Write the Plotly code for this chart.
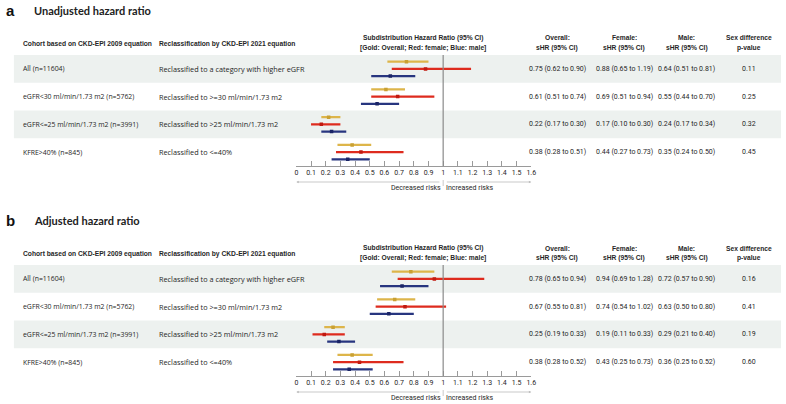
import plotly.graph_objects as go

W, H = 786, 404

# ---------------- data ----------------
cohorts = ["All (n=11604)", "eGFR<30 ml/min/1.73 m2 (n=5762)",
           "eGFR<=25 ml/min/1.73 m2 (n=3991)", "KFRE>40% (n=845)"]
reclass = ["Reclassified to a category with higher eGFR", "Reclassified to >=30 ml/min/1.73 m2",
           "Reclassified to >25 ml/min/1.73 m2", "Reclassified to <=40%"]

# panel a (unadjusted)
a_overall = [0.75, 0.61, 0.22, 0.38]
a_overall_lo = [0.62, 0.51, 0.17, 0.28]
a_overall_hi = [0.90, 0.74, 0.30, 0.51]
a_female = [0.88, 0.69, 0.17, 0.44]
a_female_lo = [0.65, 0.51, 0.10, 0.27]
a_female_hi = [1.19, 0.94, 0.30, 0.73]
a_male = [0.64, 0.55, 0.24, 0.35]
a_male_lo = [0.51, 0.44, 0.17, 0.24]
a_male_hi = [0.81, 0.70, 0.34, 0.50]
a_p = ["0.11", "0.25", "0.32", "0.45"]

# panel b (adjusted)
b_overall = [0.78, 0.67, 0.25, 0.38]
b_overall_lo = [0.65, 0.55, 0.19, 0.28]
b_overall_hi = [0.94, 0.81, 0.33, 0.52]
b_female = [0.94, 0.74, 0.19, 0.43]
b_female_lo = [0.69, 0.54, 0.11, 0.25]
b_female_hi = [1.28, 1.02, 0.33, 0.73]
b_male = [0.72, 0.63, 0.29, 0.36]
b_male_lo = [0.57, 0.50, 0.21, 0.25]
b_male_hi = [0.90, 0.80, 0.40, 0.52]
b_p = ["0.16", "0.41", "0.19", "0.60"]

tick_vals = [0, 0.1, 0.2, 0.3, 0.4, 0.5, 0.6, 0.7, 0.8, 0.9, 1, 1.1, 1.2, 1.3, 1.4, 1.5, 1.6]
tick_text = ["0", "0.1", "0.2", "0.3", "0.4", "0.5", "0.6", "0.7", "0.8", "0.9", "1",
             "1.1", "1.2", "1.3", "1.4", "1.5", "1.6"]

GOLD = "#DDB54A"
GOLD_D = "#C9A032"
RED = "#DE2B1E"
RED_D = "#C01A10"
BLUE = "#27357F"
BLUE_D = "#1A2466"
SHADE = "#EDF1EF"
TXT = "#262626"
FONT = "Roboto"
FONTW = "Open Sans"
FONTB = "Liberation Sans"
FS = 7
FSB = 6.7


def px(x):
    return x / W


def py(y):
    return 1 - y / H


fig = go.Figure()
annotations = []
shapes = []

panels = [
    dict(letter="a", title="Unadjusted hazard ratio", off=0, xa="x", ya="y",
         ov=(a_overall, a_overall_lo, a_overall_hi), fe=(a_female, a_female_lo, a_female_hi),
         ma=(a_male, a_male_lo, a_male_hi), p=a_p),
    dict(letter="b", title="Adjusted hazard ratio", off=210, xa="x2", ya="y2",
         ov=(b_overall, b_overall_lo, b_overall_hi), fe=(b_female, b_female_lo, b_female_hi),
         ma=(b_male, b_male_lo, b_male_hi), p=b_p),
]


def txt(x, y, s, anchor="left", size=FS, family=FONT, color=TXT, xref="paper"):
    annotations.append(dict(x=x, y=y, xref=xref, yref="paper", text=s, showarrow=False,
                            xanchor=anchor, yanchor="middle", borderpad=0,
                            font=dict(size=size, family=family, color=color)))


X0, X1 = 297, 534
for pi, P in enumerate(panels):
    o = P["off"]
    top, bot = 55 + o, 166 + o
    rowh = (bot - top) / 4
    # title
    txt(px(3), py(10 + o), "<b>" + P["letter"] + "</b>", size=15, family=FONTB, color="#111111")
    txt(px(31), py(10 + o), "<b>" + P["title"] + "</b>", size=11, family="Lato", color="#222222")
    # headers
    hy = 44 + o
    txt(px(20), py(hy), "<b>Cohort based on CKD-EPI 2009 equation</b>", size=FSB, family=FONTB)
    txt(px(157), py(hy), "<b>Reclassification by CKD-EPI 2021 equation</b>", size=FSB, family=FONTB)
    for cx, l1, l2 in [(425, "Subdistribution Hazard Ratio (95% CI)", "[Gold: Overall; Red: female; Blue: male]"),
                       (560, "Overall:", "sHR (95% CI)"), (628, "Female:", "sHR (95% CI)"),
                       (691, "Male:", "sHR (95% CI)"), (754, "Sex difference", "p-value")]:
        txt(px(cx), py(38 + o), "<b>" + l1 + "</b>", anchor="center", size=FSB, family=FONTB)
        txt(px(cx), py(48 + o), "<b>" + l2 + "</b>", anchor="center", size=FSB, family=FONTB)
    # rows
    for k in range(4):
        ry0 = top + k * rowh
        cy = ry0 + rowh / 2
        if k % 2 == 0:
            shapes.append(dict(type="rect", xref="paper", yref="paper", x0=px(12), x1=1,
                               y0=py(ry0 + rowh), y1=py(ry0), fillcolor=SHADE, line=dict(width=0),
                               layer="below"))
        txt(px(20), py(cy), cohorts[k], size=6.9, family=FONTW)
        txt(px(157), py(cy), reclass[k], size=7.3, family=FONTW)
        for cx, ser in [(560, P["ov"]), (628, P["fe"]), (691, P["ma"])]:
            t = "%.2f (%.2f to %.2f)" % (ser[0][k], ser[1][k], ser[2][k])
            txt(px(cx), py(cy), t, anchor="center")
        txt(px(754), py(cy), P["p"][k], anchor="center")
    # forest traces
    ys_center = [3.5 - k for k in range(4)]
    for ser, dy, col, cold in [(P["ov"], 0.26, GOLD, GOLD_D), (P["fe"], 0.0, RED, RED_D),
                               (P["ma"], -0.26, BLUE, BLUE_D)]:
        est, lo, hi = ser
        fig.add_trace(go.Scatter(
            x=est, y=[c + dy for c in ys_center], xaxis=P["xa"], yaxis=P["ya"], mode="markers",
            marker=dict(symbol="square", size=3.5, color=cold),
            error_x=dict(type="data", symmetric=False, array=[h - e for h, e in zip(hi, est)],
                         arrayminus=[e - l for e, l in zip(est, lo)], color=col, thickness=2.3, width=0),
            showlegend=False, hoverinfo="skip"))
    # vertical line at 1
    shapes.append(dict(type="line", xref=P["xa"], yref="paper", x0=1, x1=1, y0=py(bot), y1=py(top),
                       line=dict(color="#8a8a8a", width=1.2)))
    # arrows
    ay = bot + 16
    annotations.append(dict(x=0, y=py(ay), xref=P["xa"], yref="paper", ax=0.985, ay=0, axref=P["xa"],
                            ayref="pixel", text="", showarrow=True, arrowhead=2, arrowsize=0.6,
                            arrowwidth=0.8, arrowcolor="#bbbbbb"))
    annotations.append(dict(x=1.6, y=py(ay), xref=P["xa"], yref="paper", ax=1.015, ay=0, axref=P["xa"],
                            ayref="pixel", text="", showarrow=True, arrowhead=2, arrowsize=0.6,
                            arrowwidth=0.8, arrowcolor="#bbbbbb"))
    shapes.append(dict(type="line", xref=P["xa"], yref="paper", x0=1, x1=1, y0=py(ay + 4), y1=py(ay - 2),
                       line=dict(color="#bbbbbb", width=0.8)))
    txt(0.99, py(ay + 5.5), "Decreased risks", anchor="right", xref=P["xa"])
    txt(1.015, py(ay + 5.5), "Increased risks", anchor="left", xref=P["xa"])

    xax = dict(domain=[px(X0), px(X1)], range=[0, 1.6], tickvals=tick_vals, ticktext=tick_text,
               showline=True, linecolor="#9a9a9a", linewidth=1, ticks="inside", ticklen=5,
               tickcolor="#9a9a9a", showgrid=False, zeroline=False, anchor=P["ya"],
               tickfont=dict(size=FS, family=FONT, color=TXT), fixedrange=True)
    yax = dict(domain=[py(bot), py(top)], range=[0, 4], visible=False, showgrid=False,
               zeroline=False, anchor=P["xa"], fixedrange=True)
    if pi == 0:
        fig.update_layout(xaxis=xax, yaxis=yax)
    else:
        fig.update_layout(xaxis2=xax, yaxis2=yax)

fig.update_layout(width=W, height=H, margin=dict(l=0, r=0, t=0, b=0),
                  paper_bgcolor="white", plot_bgcolor="rgba(0,0,0,0)",
                  font=dict(family=FONT, color=TXT),
                  annotations=annotations, shapes=shapes, showlegend=False)

fig.write_html("out.html", config={"displayModeBar": False},
               post_script="document.body.style.margin='0px';")
